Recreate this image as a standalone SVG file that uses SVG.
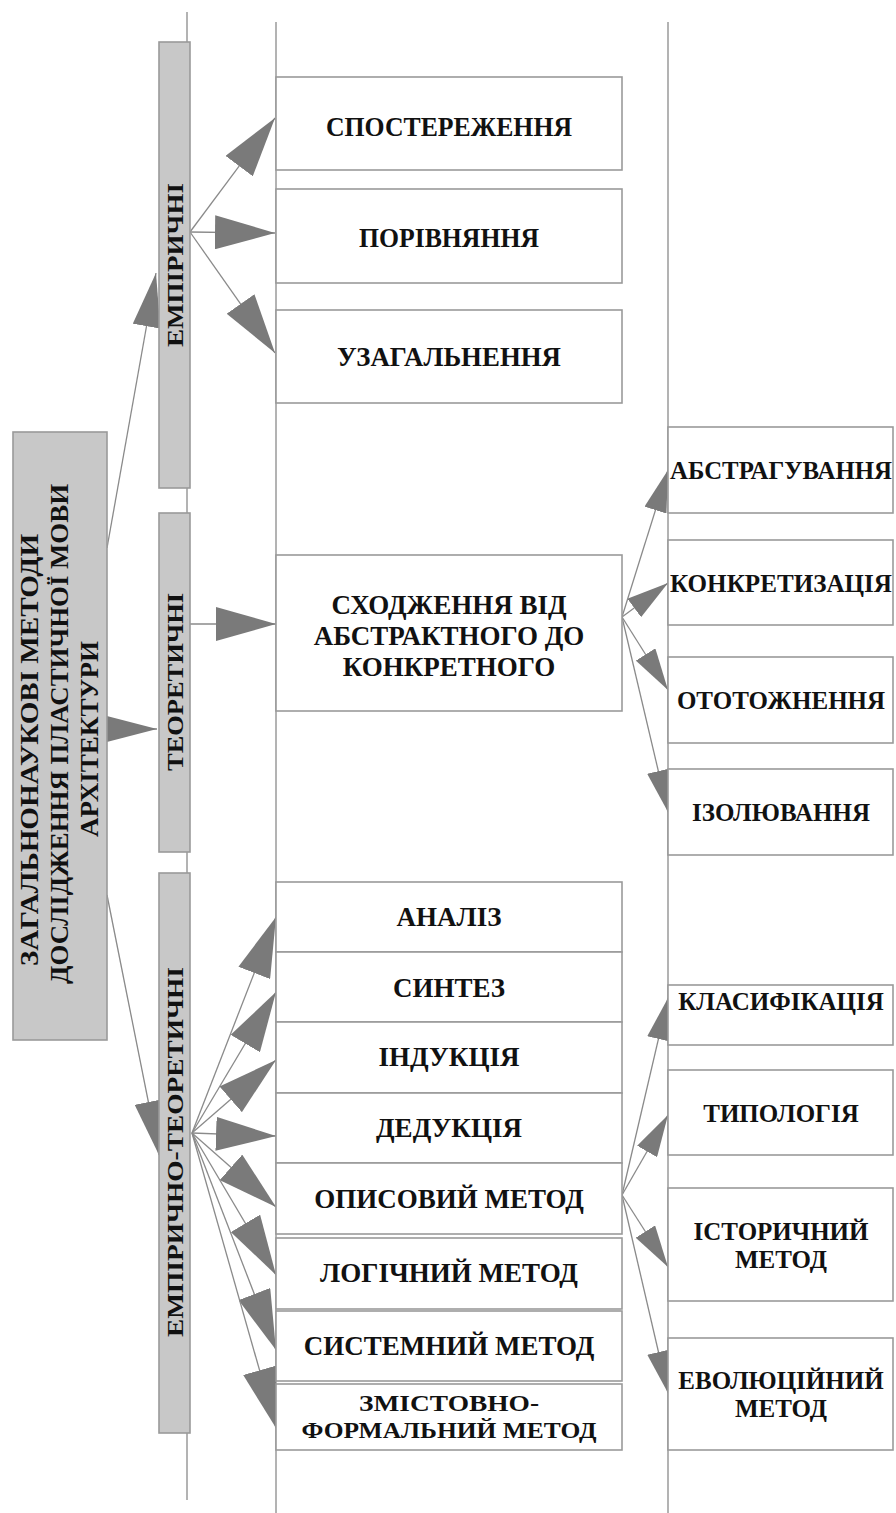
<svg xmlns="http://www.w3.org/2000/svg" width="896" height="1513" viewBox="0 0 896 1513">
<style>
.bx{fill:#fff;stroke:#9a9a9a;stroke-width:1.6}
.gb{fill:#c8c8c8;stroke:#9a9a9a;stroke-width:1.6}
.vl{stroke:#a0a0a0;stroke-width:1.6;fill:none}
.ln{stroke:#8a8a8a;stroke-width:1.3;fill:none}
.t{font-family:'Liberation Serif','DejaVu Serif',serif;font-weight:bold;font-size:25px;fill:#111;text-anchor:middle;dominant-baseline:central}
.tm{font-family:'Liberation Serif','DejaVu Serif',serif;font-weight:bold;font-size:27px;fill:#111;text-anchor:middle;dominant-baseline:central}
.ts{font-family:'Liberation Serif','DejaVu Serif',serif;font-weight:bold;font-size:24px;fill:#111;text-anchor:middle;dominant-baseline:central}
.tr{font-family:'Liberation Serif','DejaVu Serif',serif;font-weight:bold;font-size:23px;fill:#111;text-anchor:middle;dominant-baseline:central}
</style>
<defs>
<marker id="aB" markerUnits="userSpaceOnUse" markerWidth="60" markerHeight="34" refX="60" refY="17" orient="auto"><path d="M0,0 L60,17 L0,34 z" fill="#7a7a7a"/></marker>
<marker id="aM" markerUnits="userSpaceOnUse" markerWidth="54" markerHeight="28" refX="54" refY="14" orient="auto"><path d="M0,0 L54,14 L0,28 z" fill="#7a7a7a"/></marker>
<marker id="aS" markerUnits="userSpaceOnUse" markerWidth="42" markerHeight="23" refX="42" refY="11.5" orient="auto"><path d="M0,0 L42,11.5 L0,23 z" fill="#7a7a7a"/></marker>
</defs>
<rect width="896" height="1513" fill="#fff"/>
<g id="guides">
<line class="vl" x1="187" y1="12" x2="187" y2="1500"/>
<line class="vl" x1="276" y1="22" x2="276" y2="1513"/>
<line class="vl" x1="668" y1="22" x2="668" y2="1513"/>
</g>
<g id="connectors">
<line class="ln" x1="107" y1="548" x2="156" y2="273" marker-end="url(#aM)"/>
<line class="ln" x1="107" y1="729" x2="157" y2="729" marker-end="url(#aM)"/>
<line class="ln" x1="107" y1="895" x2="159" y2="1155" marker-end="url(#aM)"/>
<line class="ln" x1="190" y1="232" x2="275" y2="118" marker-end="url(#aB)"/>
<line class="ln" x1="190" y1="232" x2="275" y2="233" marker-end="url(#aB)"/>
<line class="ln" x1="190" y1="232" x2="275" y2="353" marker-end="url(#aB)"/>
<line class="ln" x1="190" y1="624" x2="276" y2="624" marker-end="url(#aB)"/>
<line class="ln" x1="622" y1="617" x2="668" y2="470" marker-end="url(#aS)"/>
<line class="ln" x1="622" y1="617" x2="668" y2="583" marker-end="url(#aS)"/>
<line class="ln" x1="622" y1="617" x2="668" y2="690" marker-end="url(#aS)"/>
<line class="ln" x1="622" y1="617" x2="668" y2="812" marker-end="url(#aS)"/>
<line class="ln" x1="192" y1="1133" x2="276" y2="917" marker-end="url(#aB)"/>
<line class="ln" x1="192" y1="1133" x2="276" y2="992" marker-end="url(#aB)"/>
<line class="ln" x1="192" y1="1133" x2="276" y2="1060" marker-end="url(#aB)"/>
<line class="ln" x1="192" y1="1133" x2="276" y2="1136" marker-end="url(#aB)"/>
<line class="ln" x1="192" y1="1133" x2="276" y2="1207" marker-end="url(#aB)"/>
<line class="ln" x1="192" y1="1133" x2="276" y2="1275" marker-end="url(#aB)"/>
<line class="ln" x1="192" y1="1133" x2="276" y2="1350" marker-end="url(#aB)"/>
<line class="ln" x1="192" y1="1133" x2="276" y2="1428" marker-end="url(#aB)"/>
<line class="ln" x1="622" y1="1195" x2="668" y2="998" marker-end="url(#aS)"/>
<line class="ln" x1="622" y1="1195" x2="668" y2="1115" marker-end="url(#aS)"/>
<line class="ln" x1="622" y1="1195" x2="668" y2="1267" marker-end="url(#aS)"/>
<line class="ln" x1="622" y1="1195" x2="668" y2="1393" marker-end="url(#aS)"/>
</g>
<g id="main">
<rect class="gb" x="13" y="432" width="94" height="608"/>
<text class="t" transform="translate(29,750) rotate(-90)" textLength="432" lengthAdjust="spacingAndGlyphs">ЗАГАЛЬНОНАУКОВІ МЕТОДИ</text>
<text class="t" transform="translate(59,734) rotate(-90)" textLength="500" lengthAdjust="spacingAndGlyphs">ДОСЛІДЖЕННЯ ПЛАСТИЧНОЇ МОВИ</text>
<text class="t" transform="translate(89,739) rotate(-90)" textLength="196" lengthAdjust="spacingAndGlyphs">АРХІТЕКТУРИ</text>
</g>
<g id="empirical">
<rect class="gb" x="159" y="42" width="31" height="446"/>
<text class="tr" transform="translate(175,265) rotate(-90)" textLength="164" lengthAdjust="spacingAndGlyphs">ЕМПІРИЧНІ</text>
</g>
<g id="theoretical">
<rect class="gb" x="159" y="513" width="31" height="339"/>
<text class="tr" transform="translate(175,682) rotate(-90)" textLength="178" lengthAdjust="spacingAndGlyphs">ТЕОРЕТИЧНІ</text>
</g>
<g id="emp-theor">
<rect class="gb" x="159" y="873" width="31" height="560"/>
<text class="tr" transform="translate(175,1152) rotate(-90)" textLength="370" lengthAdjust="spacingAndGlyphs">ЕМПІРИЧНО-ТЕОРЕТИЧНІ</text>
</g>
<g id="observation"><rect class="bx" x="276" y="77" width="346" height="93"/><text class="tm" x="449" y="127" textLength="246" lengthAdjust="spacingAndGlyphs">СПОСТЕРЕЖЕННЯ</text></g>
<g id="comparison"><rect class="bx" x="276" y="189" width="346" height="94"/><text class="tm" x="449" y="238" textLength="180" lengthAdjust="spacingAndGlyphs">ПОРІВНЯННЯ</text></g>
<g id="generalization"><rect class="bx" x="276" y="310" width="346" height="93"/><text class="tm" x="449" y="357" textLength="224" lengthAdjust="spacingAndGlyphs">УЗАГАЛЬНЕННЯ</text></g>
<g id="ascent"><rect class="bx" x="276" y="555" width="346" height="156"/>
<text class="tm" x="449" y="605">СХОДЖЕННЯ ВІД</text><text class="tm" x="449" y="636">АБСТРАКТНОГО ДО</text><text class="tm" x="449" y="667">КОНКРЕТНОГО</text></g>
<g id="analysis"><rect class="bx" x="276" y="882" width="346" height="70"/><text class="tm" x="449" y="917">АНАЛІЗ</text></g>
<g id="synthesis"><rect class="bx" x="276" y="952" width="346" height="70"/><text class="tm" x="449" y="988">СИНТЕЗ</text></g>
<g id="induction"><rect class="bx" x="276" y="1022" width="346" height="71"/><text class="tm" x="449" y="1057">ІНДУКЦІЯ</text></g>
<g id="deduction"><rect class="bx" x="276" y="1093" width="346" height="70"/><text class="tm" x="449" y="1128">ДЕДУКЦІЯ</text></g>
<g id="descriptive"><rect class="bx" x="276" y="1163" width="346" height="71"/><text class="tm" x="449" y="1199">ОПИСОВИЙ МЕТОД</text></g>
<g id="logical"><rect class="bx" x="276" y="1238" width="346" height="71"/><text class="tm" x="449" y="1273">ЛОГІЧНИЙ МЕТОД</text></g>
<g id="systemic"><rect class="bx" x="276" y="1311" width="346" height="70"/><text class="tm" x="449" y="1346">СИСТЕМНИЙ МЕТОД</text></g>
<g id="content-formal"><rect class="bx" x="276" y="1384" width="346" height="66"/>
<text class="ts" x="449" y="1403" textLength="180" lengthAdjust="spacingAndGlyphs">ЗМІСТОВНО-</text><text class="ts" x="449" y="1430" textLength="295" lengthAdjust="spacingAndGlyphs">ФОРМАЛЬНИЙ МЕТОД</text></g>
<g id="abstraction"><rect class="bx" x="668" y="427" width="225" height="86"/><text class="t" x="781" y="470" textLength="222" lengthAdjust="spacingAndGlyphs">АБСТРАГУВАННЯ</text></g>
<g id="concretization"><rect class="bx" x="668" y="540" width="225" height="85"/><text class="t" x="781" y="583" textLength="222" lengthAdjust="spacingAndGlyphs">КОНКРЕТИЗАЦІЯ</text></g>
<g id="identification"><rect class="bx" x="668" y="657" width="225" height="86"/><text class="t" x="781" y="700">ОТОТОЖНЕННЯ</text></g>
<g id="isolation"><rect class="bx" x="668" y="769" width="225" height="86"/><text class="t" x="781" y="812">ІЗОЛЮВАННЯ</text></g>
<g id="classification"><rect class="bx" x="668" y="985" width="225" height="60"/><text class="t" x="781" y="1001">КЛАСИФІКАЦІЯ</text></g>
<g id="typology"><rect class="bx" x="668" y="1070" width="225" height="85"/><text class="t" x="781" y="1113">ТИПОЛОГІЯ</text></g>
<g id="historical"><rect class="bx" x="668" y="1188" width="225" height="113"/><text class="t" x="781" y="1231">ІСТОРИЧНИЙ</text><text class="t" x="781" y="1259">МЕТОД</text></g>
<g id="evolutionary"><rect class="bx" x="668" y="1338" width="225" height="112"/><text class="t" x="781" y="1380">ЕВОЛЮЦІЙНИЙ</text><text class="t" x="781" y="1408">МЕТОД</text></g>
</svg>
